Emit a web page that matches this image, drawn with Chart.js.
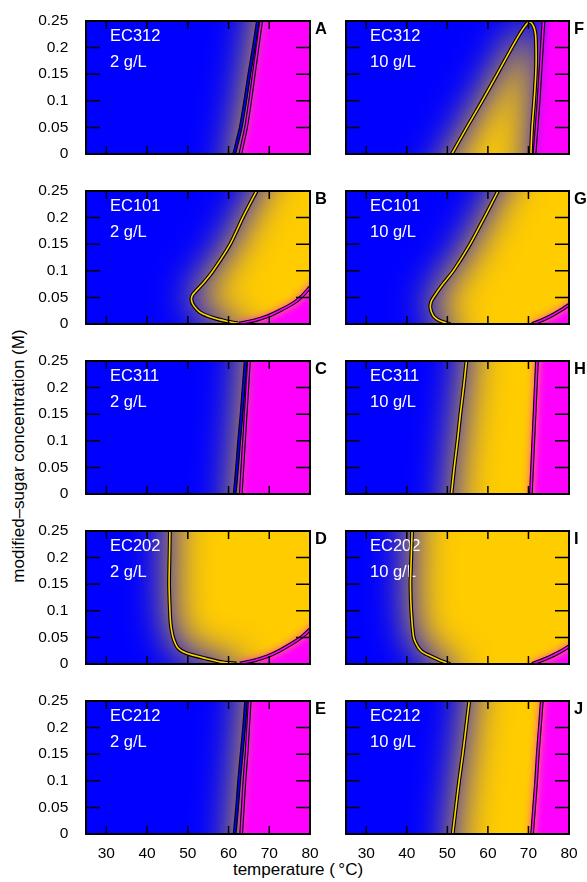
<!DOCTYPE html>
<html>
<head>
<meta charset="utf-8">
<script src="https://cdn.jsdelivr.net/npm/chart.js@4.4.1/dist/chart.umd.min.js"></script>
<style>
  html, body { margin: 0; padding: 0; background: #fff; }
  body { width: 587px; height: 882px; position: relative; overflow: hidden;
         font-family: "Liberation Sans", Arial, sans-serif; }
  canvas { position: absolute; }
  .axis-title { position: absolute; font-size: 17px; line-height: 20px; color: #000;
                text-align: center; white-space: nowrap; }
</style>
</head>
<body>
<div class="axis-title" style="left:148px; top:860px; width:300px;">temperature (&#8201;°C)</div>
<div class="axis-title" style="left:-131px; top:446px; width:300px; transform:rotate(-90deg);">modified–sugar concentration (M)</div>
<script>
// ---- axis ticks ----
const temperatureTicks = [30, 40, 50, 60, 70, 80];
const temperatureTickLabels = ['30', '40', '50', '60', '70', '80'];
const concentrationTicks = [0, 0.05, 0.1, 0.15, 0.2, 0.25];
const concentrationTickLabels = ['0', '0.05', '0.1', '0.15', '0.2', '0.25'];

// ---- panels: left column 2 g/L, right column 10 g/L ----
const panelLetters = ['A', 'B', 'C', 'D', 'E', 'F', 'G', 'H', 'I', 'J'];
const variants = ['EC312', 'EC101', 'EC311', 'EC202', 'EC212', 'EC312', 'EC101', 'EC311', 'EC202', 'EC212'];
const doses = ['2 g/L', '2 g/L', '2 g/L', '2 g/L', '2 g/L', '10 g/L', '10 g/L', '10 g/L', '10 g/L', '10 g/L'];

// ---- transition curves, [temperature (°C), concentration (M)] ----
// lower transition (blue -> gold)
const lowA = [[61.4, 0], [62.2, 0.025], [63.0, 0.05], [64.1, 0.1], [65.1, 0.15], [66.2, 0.2], [67.2, 0.25]];
const lowB = [[62.3, 0.001], [59.5, 0.005], [56.0, 0.012], [53.0, 0.022], [51.5, 0.034], [50.9, 0.045],
              [51.2, 0.055], [53.6, 0.075], [56.2, 0.1], [60.4, 0.15], [63.5, 0.2], [66.9, 0.25]];
const lowC = [[61.5, 0], [62.1, 0.05], [62.6, 0.1], [63.2, 0.15], [63.7, 0.2], [64.2, 0.25]];
const lowD = [[62.0, 0.001], [58.7, 0.003], [54.6, 0.01], [49.7, 0.02], [47.6, 0.03], [46.4, 0.05],
              [45.8, 0.075], [45.6, 0.1], [45.4, 0.15], [45.5, 0.2], [45.6, 0.25]];
const lowE = [[61.5, 0], [62.1, 0.05], [62.6, 0.1], [63.2, 0.15], [63.8, 0.2], [64.3, 0.25]];
const lowF = [[51.1, 0], [54.8, 0.05], [58.6, 0.1], [62.3, 0.15], [65.9, 0.2], [68.2, 0.23], [69.4, 0.243],
              [70.2, 0.248], [70.9, 0.245], [71.5, 0.235], [71.8, 0.22], [71.9, 0.18], [71.8, 0.15],
              [71.4, 0.1], [70.9, 0.05], [70.6, 0]];
const lowG = [[50.7, 0], [48.4, 0.005], [46.8, 0.013], [46.1, 0.022], [45.8, 0.032], [46.0, 0.042],
              [46.6, 0.05], [48.9, 0.075], [51.5, 0.1], [55.6, 0.15], [59.1, 0.2], [62.5, 0.25]];
const lowH = [[51.0, 0], [51.7, 0.05], [52.5, 0.1], [53.2, 0.15], [54.0, 0.2], [54.7, 0.25]];
const lowI = [[50.7, 0], [48.7, 0.005], [45.8, 0.015], [44.0, 0.022], [42.9, 0.03], [41.7, 0.05],
              [41.1, 0.1], [40.9, 0.15], [41.1, 0.2], [41.3, 0.25]];
const lowJ = [[51.3, 0], [52.1, 0.05], [52.9, 0.1], [53.8, 0.15], [54.6, 0.2], [55.4, 0.25]];

// upper transition (-> magenta)
const highA = [[62.9, 0], [63.6, 0.025], [64.3, 0.05], [65.3, 0.1], [66.2, 0.15], [67.1, 0.2], [68.0, 0.25]];
const highB = [[62.6, 0.001], [66.0, 0.006], [69.4, 0.014], [72.5, 0.025], [75.9, 0.039], [78.0, 0.052], [80.0, 0.069]];
const highC = [[63.0, 0], [63.4, 0.05], [63.8, 0.1], [64.2, 0.15], [64.6, 0.2], [65.0, 0.25]];
const highD = [[62.8, 0.001], [66.0, 0.006], [69.4, 0.014], [72.5, 0.025], [75.9, 0.04], [78.0, 0.051], [80.0, 0.065]];
const highE = [[63.1, 0], [63.5, 0.05], [63.9, 0.1], [64.4, 0.15], [64.8, 0.2], [65.2, 0.25]];
const highF = [[71.5, 0], [72.0, 0.05], [72.5, 0.1], [72.9, 0.15], [73.3, 0.2], [73.7, 0.25]];
const highG = [[70.9, 0], [73.0, 0.006], [75.5, 0.015], [78.0, 0.026], [80.0, 0.036]];
const highH = [[70.6, 0], [70.9, 0.05], [71.2, 0.1], [71.5, 0.15], [71.8, 0.2], [72.1, 0.25]];
const highI = [[70.9, 0], [73.0, 0.006], [75.5, 0.014], [78.0, 0.024], [80.0, 0.033]];
const highJ = [[70.9, 0], [71.4, 0.05], [71.9, 0.1], [72.3, 0.15], [72.8, 0.2], [73.3, 0.25]];

const lowCurves = [lowA, lowB, lowC, lowD, lowE, lowF, lowG, lowH, lowI, lowJ];
const highCurves = [highA, highB, highC, highD, highE, highF, highG, highH, highI, highJ];
// the lower curve of F encloses its region; all others are open to the right / below
const lowClosedShape = [false, false, false, false, false, true, false, false, false, false];

// ---- styling ----
const FONT = '"Liberation Sans", Arial, sans-serif';
const fieldColours = { cold: '#0000ff', mid: '#ffcc00', hot: '#ff00ff' };
const lowCoreColours = ['#0000ff', '#ffd200', '#0000ff', '#ffd200', '#0000ff',
                        '#ffd200', '#ffd200', '#ffd200', '#ffd200', '#ffd200'];
const highCoreColour = '#ff00ff';
const ROW_TOP = 21, ROW_PITCH = 170, PLOT_H = 133;
const MID_SOFTNESS = 40, HOT_SOFTNESS = 10;

function toXY(curve) { return curve.map(([t, c]) => ({ x: t, y: c })); }

// region outline in pixel space, reaching well past the plot edges
function regionPath(curve, closed, xs, ys, area) {
  const p = curve.map(([t, c]) => ({ x: xs.getPixelForValue(t), y: ys.getPixelForValue(c) }));
  const ext = (a, b, len) => {
    const d = Math.hypot(a.x - b.x, a.y - b.y) || 1;
    return { x: a.x + (a.x - b.x) / d * len, y: a.y + (a.y - b.y) / d * len };
  };
  const n = p.length, L = 200;
  const endExt = ext(p[n - 1], p[n - 2], L);
  if (closed) {
    return [ext(p[0], p[1], L), ...p, endExt];
  }
  const far = area.right + 400, low = area.bottom + 400;
  return [{ x: p[0].x, y: low }, ...p, endExt, { x: far, y: endExt.y }, { x: far, y: low }];
}

// soft-edged fill: the shape is drawn off-canvas and only its blurred shadow lands in place
function fillSoft(ctx, pts, colour, blur) {
  const off = 6000;
  ctx.save();
  ctx.shadowColor = colour;
  ctx.shadowBlur = blur;
  ctx.shadowOffsetX = off;
  ctx.shadowOffsetY = 0;
  ctx.fillStyle = colour;
  ctx.beginPath();
  pts.forEach((q, k) => (k ? ctx.lineTo(q.x - off, q.y) : ctx.moveTo(q.x - off, q.y)));
  ctx.closePath();
  ctx.fill();
  ctx.restore();
}

const phasePlugin = {
  id: 'phaseField',
  beforeDatasetsDraw(chart, args, opts) {
    const { ctx, chartArea: a, scales: { x, y } } = chart;
    const i = opts.panel;
    ctx.save();
    ctx.beginPath();
    ctx.rect(a.left, a.top, a.width, a.height);
    ctx.clip();
    ctx.fillStyle = fieldColours.cold;
    ctx.fillRect(a.left, a.top, a.width, a.height);
    fillSoft(ctx, regionPath(lowCurves[i], lowClosedShape[i], x, y, a), fieldColours.mid, MID_SOFTNESS);
    fillSoft(ctx, regionPath(highCurves[i], false, x, y, a), fieldColours.hot, HOT_SOFTNESS);
    // panel annotation
    ctx.fillStyle = '#fff';
    ctx.font = '16.5px ' + FONT;
    ctx.textAlign = 'left';
    ctx.textBaseline = 'alphabetic';
    ctx.fillText(variants[i], a.left + 24, a.top + 19.5);
    ctx.fillText(doses[i], a.left + 24, a.top + 45.5);
    ctx.restore();
  },
  afterDatasetsDraw(chart, args, opts) {
    const { ctx, chartArea: a, scales: { x, y } } = chart;
    const i = opts.panel;
    ctx.save();
    ctx.strokeStyle = '#000';
    ctx.lineWidth = 1.5;
    ctx.beginPath();
    temperatureTicks.forEach(v => {
      const px = x.getPixelForValue(v);
      ctx.moveTo(px, a.bottom); ctx.lineTo(px, a.bottom - 8);
      ctx.moveTo(px, a.top); ctx.lineTo(px, a.top + 8);
    });
    concentrationTicks.forEach(v => {
      const py = y.getPixelForValue(v);
      ctx.moveTo(a.left, py); ctx.lineTo(a.left + 14, py);
      ctx.moveTo(a.right, py); ctx.lineTo(a.right - 14, py);
    });
    ctx.stroke();
    ctx.lineWidth = 2;
    ctx.strokeRect(a.left, a.top, a.width, a.height);
    ctx.fillStyle = '#000';
    ctx.font = 'bold 16.5px ' + FONT;
    ctx.textAlign = 'left';
    ctx.textBaseline = 'alphabetic';
    ctx.fillText(panelLetters[i], a.right + 5, a.top + 12.6);
    ctx.restore();
  }
};

function makePanel(i) {
  const col = i < 5 ? 0 : 1;
  const row = i % 5;
  const last = row === 4;
  const canvas = document.createElement('canvas');
  const left = col ? 340 : 0;
  const width = col ? 247 : 340;
  const top = ROW_TOP + ROW_PITCH * row - 12;
  const height = 12 + PLOT_H + (last ? 34 : 8);
  canvas.width = width; canvas.height = height;
  canvas.style.left = left + 'px'; canvas.style.top = top + 'px';
  canvas.style.width = width + 'px'; canvas.style.height = height + 'px';
  document.body.appendChild(canvas);

  const line = (curve, colour, w, order) => ({
    data: toXY(curve), showLine: true, borderColor: colour, borderWidth: w,
    pointRadius: 0, pointHoverRadius: 0, tension: 0.25, order: order, clip: 0,
    borderCapStyle: 'butt', borderJoinStyle: 'round'
  });

  new Chart(canvas, {
    type: 'scatter',
    data: {
      datasets: [
        line(lowCurves[i], '#000', 3.8, 1),
        line(highCurves[i], '#000', 3.8, 1),
        line(lowCurves[i], lowCoreColours[i], 1.6, 0),
        line(highCurves[i], highCoreColour, 1.6, 0)
      ]
    },
    options: {
      responsive: false,
      animation: false,
      devicePixelRatio: 1,
      events: [],
      layout: { padding: { left: col ? 6 : 0, right: col ? 18 : 30, top: 12, bottom: last ? 0 : 8 } },
      plugins: { legend: { display: false }, tooltip: { enabled: false }, phaseField: { panel: i } },
      scales: {
        x: {
          type: 'linear', min: 25, max: 80, display: last,
          afterBuildTicks: s => { s.ticks = temperatureTicks.map(v => ({ value: v })); },
          afterFit: s => { s.height = last ? 34 : 0; s.paddingLeft = 0; s.paddingRight = 0; },
          grid: { display: false, drawTicks: false, tickLength: 0 },
          border: { display: false },
          ticks: {
            padding: 10, color: '#000', maxRotation: 0, autoSkip: false,
            font: { size: 15.5, family: FONT },
            callback: (v, idx) => temperatureTickLabels[idx]
          }
        },
        y: {
          type: 'linear', min: 0, max: 0.25, display: col === 0,
          afterBuildTicks: s => { s.ticks = concentrationTicks.map(v => ({ value: v })); },
          afterFit: s => { s.width = col === 0 ? 86 : 0; s.paddingTop = 0; s.paddingBottom = 0; },
          grid: { display: false, drawTicks: false, tickLength: 0 },
          border: { display: false },
          ticks: {
            padding: 17.7, color: '#000', autoSkip: false,
            font: { size: 15.5, family: FONT },
            callback: (v, idx) => concentrationTickLabels[idx]
          }
        }
      }
    },
    plugins: [phasePlugin]
  });
}

for (let i = 0; i < 10; i++) makePanel(i);
</script>
</body>
</html>
